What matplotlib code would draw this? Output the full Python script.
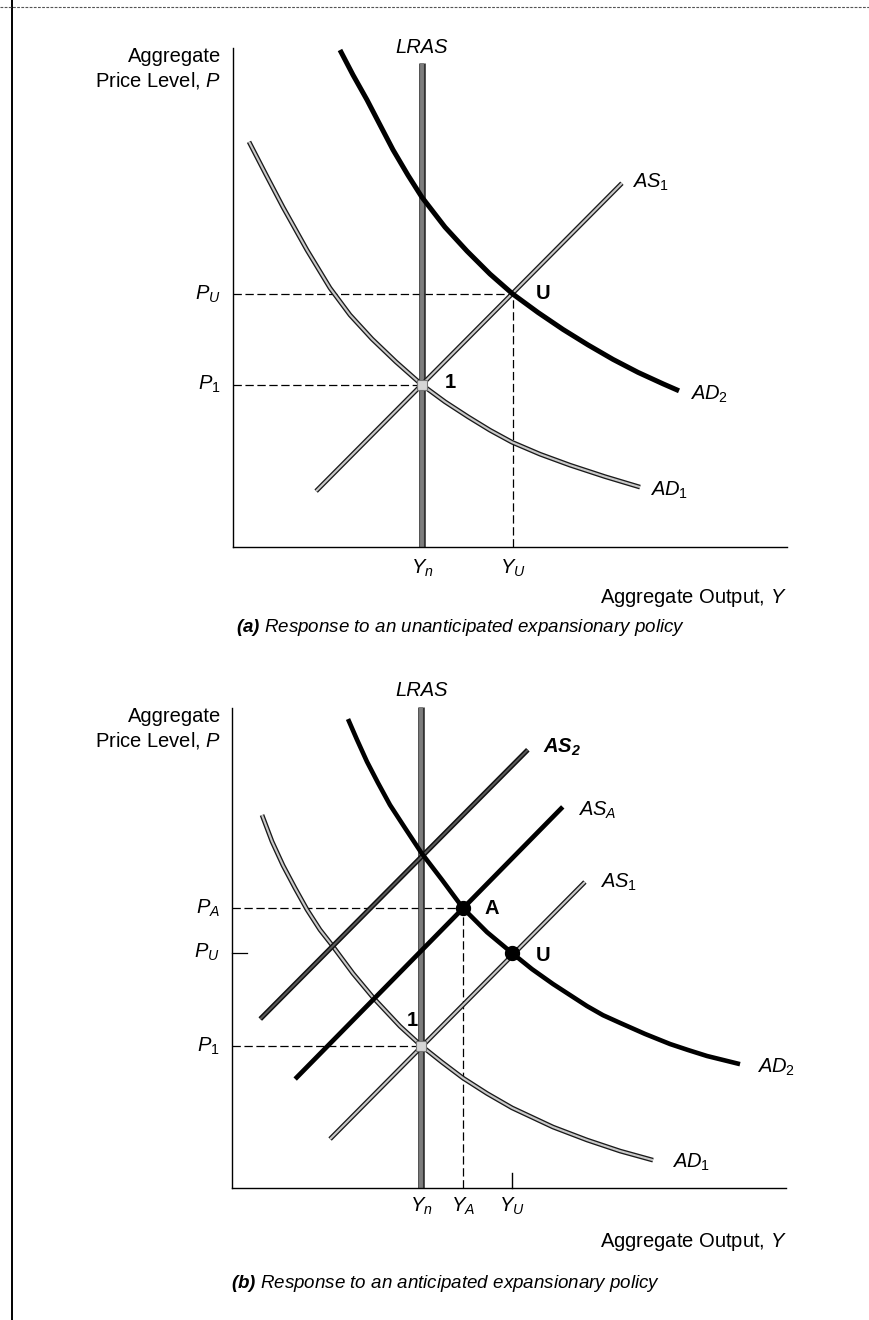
import matplotlib
matplotlib.use('Agg')
import matplotlib.pyplot as plt
import matplotlib.patheffects as pe
from matplotlib.lines import Line2D

# ---------------- data ----------------
# Panel (a): unanticipated expansionary policy
a_Yn, a_YU = 34.1, 50.5
a_P1, a_PU = 32.5, 50.7
a_lras_top = 97.0
a_AS1_x = [15.0, 70.2]
a_AS1_y = [11.2, 72.9]
a_AD1_x = [2.89, 5.96, 9.03, 13.36, 17.51, 21.12, 25.09, 29.42, 34.1, 38.27, 42.42,
           46.39, 50.36, 55.42, 60.83, 67.15, 73.47]
a_AD1_y = [81.2, 74.6, 68.1, 59.5, 51.9, 46.5, 41.7, 37.1, 32.5, 29.1, 26.1,
           23.4, 21.0, 18.6, 16.4, 14.1, 12.0]
a_AD2_x = [19.31, 21.66, 24.19, 26.53, 28.88, 31.59, 34.1, 38.27, 42.24, 46.39, 50.5,
           55.05, 59.57, 64.08, 68.59, 73.10, 77.62, 80.51]
a_AD2_y = [99.6, 94.6, 89.6, 84.6, 79.6, 74.5, 70.1, 64.1, 59.3, 54.7, 50.7,
           47.0, 43.6, 40.5, 37.6, 35.0, 32.7, 31.3]

# Panel (b): anticipated expansionary policy
b_Yn, b_YA, b_YU = 34.2, 41.7, 50.5
b_P1, b_PA, b_PU = 29.6, 58.3, 49.0
b_lras_top = 100.2
b_AS1_x = [17.7, 63.7]
b_AS1_y = [10.2, 63.75]
b_ASA_x = [11.4, 59.7]
b_ASA_y = [22.7, 79.4]
b_AS2_x = [5.1, 53.4]
b_AS2_y = [35.2, 91.3]
b_AD1_x = [5.42, 7.22, 9.21, 11.37, 13.54, 15.88, 18.05, 21.84, 25.45, 30.32, 34.2,
           37.91, 41.70, 46.03, 50.54, 57.94, 64.08, 70.04, 76.00]
b_AD1_y = [77.7, 72.2, 67.2, 62.5, 58.0, 53.8, 50.6, 44.7, 39.7, 33.7, 29.6,
           26.2, 22.9, 19.7, 16.7, 12.7, 10.0, 7.7, 5.8]
b_AD2_x = [20.94, 22.56, 24.37, 26.35, 28.52, 31.23, 34.2, 37.91, 41.7, 46.03, 50.5,
           54.15, 57.94, 61.01, 64.08, 66.97, 70.04, 74.55, 79.06, 82.31, 85.74, 91.70]
b_AD2_y = [97.7, 93.4, 88.8, 84.4, 79.8, 75.0, 69.8, 64.2, 58.3, 53.3, 49.0,
           45.6, 42.5, 40.2, 37.9, 36.0, 34.4, 32.1, 30.0, 28.75, 27.5, 25.8]

# ---------------- style ----------------
plt.rcParams['font.family'] = ['Liberation Sans', 'DejaVu Sans']
plt.rcParams['mathtext.fontset'] = 'custom'
plt.rcParams['mathtext.rm'] = 'Liberation Sans'
plt.rcParams['mathtext.it'] = 'Liberation Sans:italic'
plt.rcParams['mathtext.bf'] = 'Liberation Sans:bold'
plt.rcParams['mathtext.bfit'] = 'Liberation Sans:bold:italic'
plt.rcParams['lines.scale_dashes'] = False

W, H = 870, 1320
FS = 14.5
fig = plt.figure(figsize=(W / 100, H / 100), dpi=100)
fig.patch.set_facecolor('white')


def add_axes_px(left, top, right, bottom):
    ax = fig.add_axes([left / W, 1 - bottom / H, (right - left) / W, (bottom - top) / H])
    ax.set_xlim(0, 100)
    ax.set_ylim(0, 100)
    for s in ('top', 'right'):
        ax.spines[s].set_visible(False)
    for s in ('left', 'bottom'):
        ax.spines[s].set_linewidth(1.0)
        ax.spines[s].set_color('black')
    ax.set_xticks([])
    ax.set_yticks([])
    ax.patch.set_alpha(0)
    return ax


def outlined(ax, x, y, inner='#c9c9c9', outer='#1a1a1a', lw_in=1.5, lw_out=3.4, z=3):
    ax.plot(x, y, color=inner, lw=lw_in, solid_capstyle='butt', solid_joinstyle='round',
            zorder=z, clip_on=False,
            path_effects=[pe.Stroke(linewidth=lw_out, foreground=outer, capstyle='butt',
                                    joinstyle='round'),
                          pe.Normal()])


def lras(ax, x, top):
    outlined(ax, [x, x], [0, top], inner='#7d7d7d', outer='#333333', lw_in=2.8, lw_out=4.8, z=2)


def dashed(ax, x, y):
    ax.plot(x, y, color='black', lw=0.9, dashes=(6, 2.6), zorder=1.5, clip_on=False)


def ptxt(px, py, s, **kw):
    fig.text(px / W, 1 - py / H, s, **kw)


# ================= Panel (a) =================
ax = add_axes_px(233, 48, 787, 547)
lras(ax, a_Yn, a_lras_top)
dashed(ax, [0, a_YU], [a_PU, a_PU])
dashed(ax, [a_YU, a_YU], [0, a_PU])
dashed(ax, [0, a_Yn], [a_P1, a_P1])
outlined(ax, a_AD1_x, a_AD1_y, z=3)
outlined(ax, a_AS1_x, a_AS1_y, z=3.5)
ax.plot(a_AD2_x, a_AD2_y, color='black', lw=3.6, solid_capstyle='butt',
        solid_joinstyle='round', zorder=4, clip_on=False)
ax.plot([a_Yn], [a_P1], marker='s', ms=7, mfc='#d6d6d6', mec='#777777', mew=0.8,
        zorder=5, clip_on=False)

ax.text(a_Yn, 100.2, 'LRAS', style='italic', fontsize=FS, ha='center', va='center')
ax.text(-2.2, a_PU, '$P_U$', fontsize=FS, ha='right', va='center')
ax.text(-2.2, a_P1, '$P_1$', fontsize=FS, ha='right', va='center')
ax.text(a_Yn, -4.2, '$Y_n$', fontsize=FS, ha='center', va='center')
ax.text(a_YU, -4.2, '$Y_U$', fontsize=FS, ha='center', va='center')
ax.text(72.0, 73.1, '$AS_1$', fontsize=FS, ha='left', va='center')
ax.text(82.5, 30.5, '$AD_2$', fontsize=FS, ha='left', va='center')
ax.text(75.3, 11.4, '$AD_1$', fontsize=FS, ha='left', va='center')
ax.text(56.0, 50.9, 'U', fontsize=FS, fontweight='bold', ha='center', va='center')
ax.text(39.2, 32.9, '1', fontsize=FS, fontweight='bold', ha='center', va='center')

ptxt(221, 69, 'Aggregate\nPrice Level, $P$', fontsize=FS, ha='right', va='center',
     linespacing=1.25)
ptxt(787, 598, 'Aggregate Output, $Y$', fontsize=FS, ha='right', va='center')
ptxt(236, 627, r'$\mathbfit{(a)}\ \mathit{Response\ to\ an\ unanticipated\ expansionary\ policy}$',
     fontsize=13.5, ha='left', va='center')

# ================= Panel (b) =================
bx = add_axes_px(232, 708, 786, 1188)
lras(bx, b_Yn, b_lras_top)
dashed(bx, [0, b_YA], [b_PA, b_PA])
dashed(bx, [b_YA, b_YA], [0, b_PA])
dashed(bx, [0, b_Yn], [b_P1, b_P1])
bx.plot([0, 2.7], [b_PU, b_PU], color='black', lw=0.9, zorder=1.5, clip_on=False)
bx.plot([b_YU, b_YU], [0, 3.1], color='black', lw=1.0, zorder=1.5, clip_on=False)
outlined(bx, b_AD1_x, b_AD1_y, z=3)
outlined(bx, b_AS1_x, b_AS1_y, z=3.5)
outlined(bx, b_AS2_x, b_AS2_y, inner='#5a5a5a', outer='#111111', lw_in=1.4, lw_out=3.6, z=3.6)
bx.plot(b_ASA_x, b_ASA_y, color='black', lw=3.4, solid_capstyle='butt', zorder=3.7, clip_on=False)
bx.plot(b_AD2_x, b_AD2_y, color='black', lw=3.3, solid_capstyle='butt',
        solid_joinstyle='round', zorder=4, clip_on=False)
bx.plot([b_Yn], [b_P1], marker='s', ms=7, mfc='#d6d6d6', mec='#777777', mew=0.8,
        zorder=5, clip_on=False)
bx.plot([b_YA, b_YU], [b_PA, b_PU], ls='none', marker='o', ms=10, mfc='black', mec='black',
        zorder=6, clip_on=False)

bx.text(b_Yn, 103.7, 'LRAS', style='italic', fontsize=FS, ha='center', va='center')
bx.text(-2.2, b_PA, '$P_A$', fontsize=FS, ha='right', va='center')
bx.text(-2.2, b_PU, '$P_U$', fontsize=FS, ha='right', va='center')
bx.text(-2.2, b_P1, '$P_1$', fontsize=FS, ha='right', va='center')
bx.text(b_Yn, -3.8, '$Y_n$', fontsize=FS, ha='center', va='center')
bx.text(b_YA, -3.8, '$Y_A$', fontsize=FS, ha='center', va='center')
bx.text(b_YU, -3.8, '$Y_U$', fontsize=FS, ha='center', va='center')
bx.text(56.1, 91.7, r'$\mathbfit{AS}_\mathbfit{2}$', fontsize=FS, ha='left', va='center')
bx.text(62.5, 78.75, '$AS_A$', fontsize=FS, ha='left', va='center')
bx.text(66.4, 63.75, '$AS_1$', fontsize=FS, ha='left', va='center')
bx.text(94.8, 25.2, '$AD_2$', fontsize=FS, ha='left', va='center')
bx.text(79.4, 5.4, '$AD_1$', fontsize=FS, ha='left', va='center')
bx.text(46.9, 58.3, 'A', fontsize=FS, fontweight='bold', ha='center', va='center')
bx.text(56.1, 48.5, 'U', fontsize=FS, fontweight='bold', ha='center', va='center')
bx.text(32.5, 35.0, '1', fontsize=FS, fontweight='bold', ha='center', va='center')

ptxt(221, 729, 'Aggregate\nPrice Level, $P$', fontsize=FS, ha='right', va='center',
     linespacing=1.25)
ptxt(787, 1242, 'Aggregate Output, $Y$', fontsize=FS, ha='right', va='center')
ptxt(231, 1283, r'$\mathbfit{(b)}\ \mathit{Response\ to\ an\ anticipated\ expansionary\ policy}$',
     fontsize=13.5, ha='left', va='center')

# page edges of the scanned figure
fig.add_artist(Line2D([12 / W, 12 / W], [0, 1], color='black', lw=1.4))
fig.add_artist(Line2D([0, 1], [1 - 7 / H, 1 - 7 / H], color='#555555', lw=0.8, ls=(0, (2, 1))))

fig.savefig('out.png', dpi=100, facecolor='white')
